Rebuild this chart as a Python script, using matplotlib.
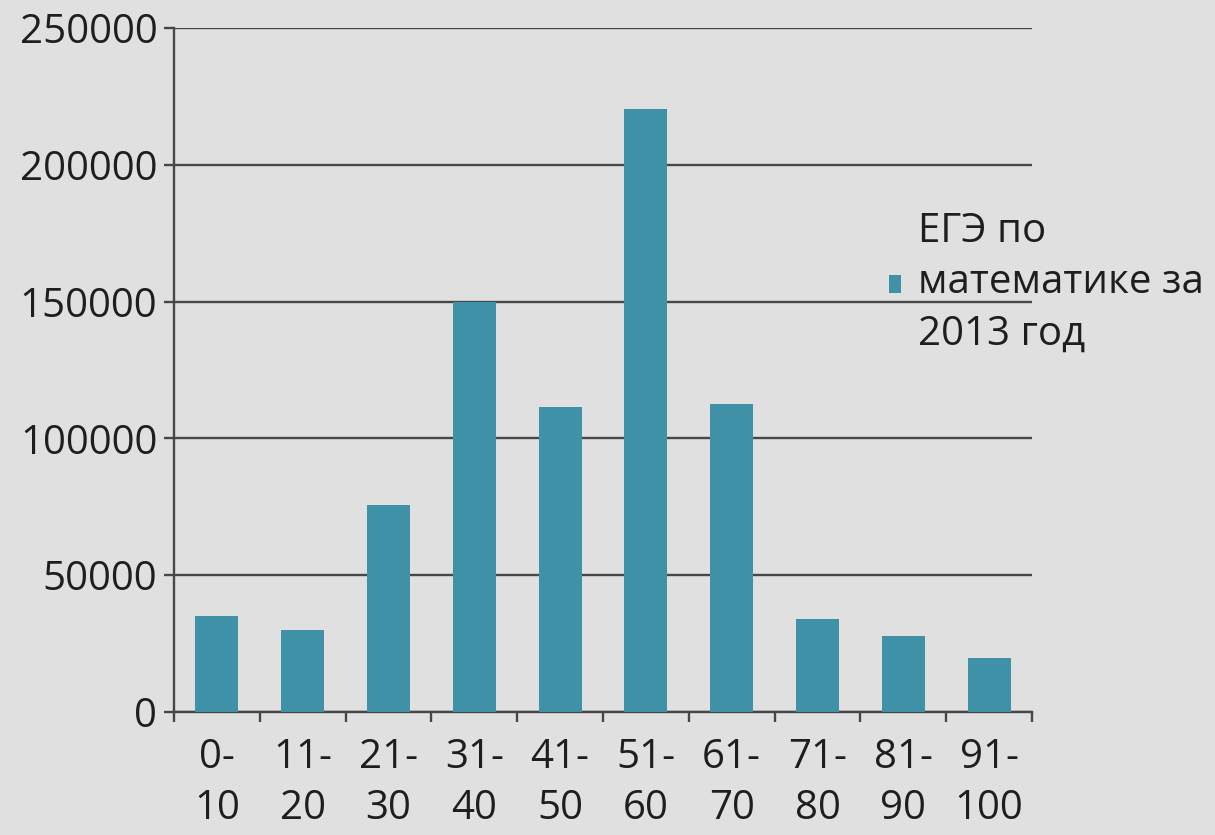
import matplotlib
matplotlib.use('Agg')
from matplotlib import pyplot as plt
from matplotlib.ticker import MultipleLocator
import numpy as np

categories = ['0-\n10', '11-\n20', '21-\n30', '31-\n40', '41-\n50',
              '51-\n60', '61-\n70', '71-\n80', '81-\n90', '91-\n100']
values = [35000, 30000, 75500, 150000, 111500, 220500, 112500, 34000, 27800, 19700]
series_name = 'ЕГЭ по\nматематике за\n2013 год'

plt.rcParams['font.family'] = ['Open Sans', 'DejaVu Sans']
plt.rcParams['text.color'] = '#1e1e1e'
plt.rcParams['xtick.labelcolor'] = '#1e1e1e'
plt.rcParams['ytick.labelcolor'] = '#1e1e1e'

bg = '#e0e0e0'
bar_color = '#3f91a8'
line_color = '#474747'

fig = plt.figure(figsize=(12.15, 8.35), dpi=100, facecolor=bg)
ax = fig.add_axes([0.1432, 0.1473, 0.7062, 0.8192])
ax.set_facecolor(bg)

x = np.arange(len(values))
ax.bar(x, values, width=0.5, color=bar_color, label=series_name, zorder=3)

ax.set_xlim(-0.5, len(values) - 0.5)
ax.set_ylim(0, 250000)
ax.yaxis.set_major_locator(MultipleLocator(50000))
ax.grid(axis='y', color=line_color, linewidth=1.7, zorder=0)

for s in ['top', 'right']:
    ax.spines[s].set_visible(False)
for s in ['left', 'bottom']:
    ax.spines[s].set_color(line_color)
    ax.spines[s].set_linewidth(1.7)

ax.set_xticks(x)
ax.set_xticklabels(categories, fontsize=29)
ax.set_xticks(np.arange(-0.5, len(values)), minor=True)
ax.tick_params(axis='x', which='major', length=0, pad=18)
ax.tick_params(axis='x', which='minor', length=7, width=1.7, color=line_color)
ax.tick_params(axis='y', length=7, width=1.7, color=line_color, labelsize=29, pad=5)
for lbl in ax.get_xticklabels():
    lbl.set_linespacing(1.35)

leg = fig.legend(loc='center left', bbox_to_anchor=(0.732, 0.661),
                 frameon=False, fontsize=29, handlelength=0.3, handleheight=0.3,
                 handletextpad=0.4, borderpad=0, borderaxespad=0)
for t in leg.get_texts():
    t.set_linespacing(1.35)

fig.savefig('out.png', dpi=100, facecolor=bg)
